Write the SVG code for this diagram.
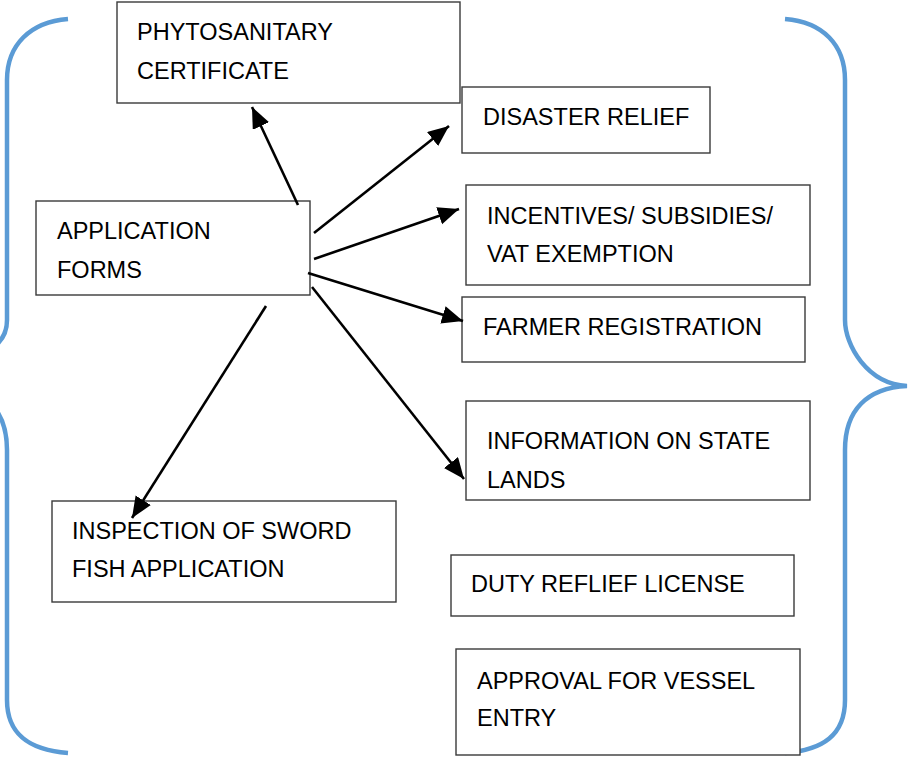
<svg xmlns="http://www.w3.org/2000/svg" width="909" height="763" viewBox="0 0 909 763">
<style>
.box{fill:#fff;stroke:#3a3a3a;stroke-width:1.4}
.t{font-family:"Liberation Sans",Arial,sans-serif;font-size:23.5px;fill:#000}
.brace{fill:none;stroke:#5B9BD5;stroke-width:4.5;stroke-linecap:butt}
.arr{stroke:#000;stroke-width:2.6;fill:none;marker-end:url(#ah)}
</style>
<defs>
<marker id="ah" markerUnits="userSpaceOnUse" markerWidth="24" markerHeight="20" refX="21" refY="9" orient="auto">
<path d="M0,0 L21,9 L0,18 Z" fill="#000"/>
</marker>
</defs>
<rect width="909" height="763" fill="#fff"/>
<g id="braces">
<path class="brace" d="M68,19 C30,22 7,45 7,80 L7,320 C7,345 -15,358 -55,360"/>
<path class="brace" d="M-55,386 C-15,388 7,410 7,450 L7,700 C7,735 30,750 68,753"/>
<path class="brace" d="M785,19 C823,22 845,45 845,80 L845,320 C845,345 867,384 907,386 C867,388 845,410 845,450 L845,700 C845,735 823,750 785,753"/>
</g>
<g id="phyto"><rect class="box" x="117" y="2" width="343" height="101"/><text class="t" x="137" y="40">PHYTOSANITARY</text><text class="t" x="137" y="79">CERTIFICATE</text></g>
<g id="disaster"><rect class="box" x="462" y="87" width="248" height="66"/><text class="t" x="483" y="125">DISASTER RELIEF</text></g>
<g id="incentives"><rect class="box" x="466" y="185" width="344" height="100"/><text class="t" x="487" y="224">INCENTIVES/ SUBSIDIES/</text><text class="t" x="487" y="262">VAT EXEMPTION</text></g>
<g id="farmer"><rect class="box" x="462" y="297" width="343" height="65"/><text class="t" x="483" y="335">FARMER REGISTRATION</text></g>
<g id="statelands"><rect class="box" x="466" y="401" width="344" height="99"/><text class="t" x="487" y="449">INFORMATION ON STATE</text><text class="t" x="487" y="488">LANDS</text></g>
<g id="duty"><rect class="box" x="451" y="555" width="343" height="61"/><text class="t" x="471" y="592">DUTY REFLIEF LICENSE</text></g>
<g id="vessel"><rect class="box" x="456" y="649" width="344" height="106"/><text class="t" x="477" y="689">APPROVAL FOR VESSEL</text><text class="t" x="477" y="726">ENTRY</text></g>
<g id="application"><rect class="box" x="36" y="201" width="274" height="94"/><text class="t" x="57" y="239">APPLICATION</text><text class="t" x="57" y="278">FORMS</text></g>
<g id="swordfish"><rect class="box" x="52" y="501" width="344" height="101"/><text class="t" x="72" y="539">INSPECTION OF SWORD</text><text class="t" x="72" y="577">FISH APPLICATION</text></g>
<g id="connectors">
<line class="arr" x1="298" y1="205" x2="252" y2="107"/>
<line class="arr" x1="314" y1="233" x2="449" y2="126"/>
<line class="arr" x1="314" y1="259" x2="459" y2="209"/>
<line class="arr" x1="308" y1="273" x2="463" y2="321"/>
<line class="arr" x1="312" y1="287" x2="464" y2="479"/>
<line class="arr" x1="266" y1="306" x2="132" y2="518"/>
</g>
</svg>
